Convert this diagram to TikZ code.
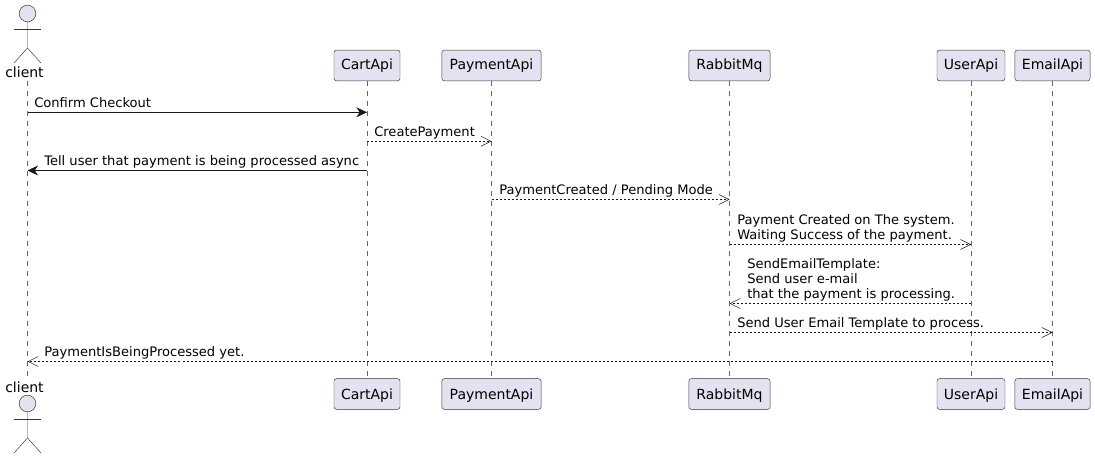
\documentclass[tikz,border=0pt]{standalone}
\usepackage{fontspec}
\setmainfont{DejaVu Sans}
\usetikzlibrary{arrows.meta,positioning,calc}
\definecolor{boxfill}{HTML}{E2E2F0}
\definecolor{boxline}{HTML}{333333}
\definecolor{lifegray}{HTML}{666666}
\definecolor{arrowdark}{HTML}{181818}
\tikzset{
  partbox/.style={
    draw=boxline,
    fill=boxfill,
    rounded corners=1.9pt,
    line width=0.35pt,
    align=center,
    inner sep=0pt,
    minimum height=23pt,
    text height=8pt,
    text depth=2pt,
    font=\fontsize{10.5pt}{12pt}\selectfont
  },
  partboxlow/.style={partbox, text height=8.5pt, text depth=1pt},
  actorname/.style={anchor=base, inner sep=0pt, font=\fontsize{10.5pt}{12pt}\selectfont},
  actorhead/.style={circle, draw=boxline, fill=boxfill, line width=0.35pt, minimum size=12.5pt, inner sep=0pt},
  actorline/.style={draw=boxline, line width=0.35pt},
  lifeline/.style={draw=lifegray, line width=0.35pt, dash pattern=on 3.75pt off 3.75pt},
  msglabel/.style={anchor=base west, inner sep=0pt, align=left, font=\fontsize{9.8pt}{11.25pt}\selectfont},
  syncarrow/.style={-{Stealth[length=8pt, width=7.5pt, inset=2.6pt]}, draw=arrowdark, line width=0.75pt},
  asyncarrow/.style={-{Straight Barb[length=7.5pt, width=7.5pt]}, draw=arrowdark, line width=0.38pt, dash pattern=on 1.5pt off 1.5pt}
}
\begin{document}
\begin{tikzpicture}[x=0.75pt, y=-0.75pt]
\useasboundingbox (0,0) rectangle (1095,459);
% participants
\node[actorname] (clientTop) at (24.5,78) {client};
\node[partbox, minimum width=49.5pt] (cartTop) at (367,65.5) {CartApi};
\node[partbox, minimum width=74.5pt] (payTop) at (491.5,65.5) {PaymentApi};
\node[partbox, minimum width=61pt] (rabbitTop) at (729.5,65.5) {RabbitMq};
\node[partbox, minimum width=51pt] (userTop) at (971,65.5) {UserApi};
\node[partbox, minimum width=56.5pt] (emailTop) at (1052.5,65.5) {EmailApi};
\node[actorname] (clientBot) at (24.5,392) {client};
\node[partboxlow, minimum width=49.5pt] (cartBot) at (367,394) {CartApi};
\node[partboxlow, minimum width=74.5pt] (payBot) at (491.5,394) {PaymentApi};
\node[partboxlow, minimum width=61pt] (rabbitBot) at (729.5,394) {RabbitMq};
\node[partboxlow, minimum width=51pt] (userBot) at (971,394) {UserApi};
\node[partboxlow, minimum width=56.5pt] (emailBot) at (1052.5,394) {EmailApi};
\coordinate (clientUp) at (27.5,81);
\coordinate (clientDown) at (27.5,378);

% lifelines
\draw[lifeline] (clientUp) -- (clientDown);
\draw[lifeline] (cartTop) -- (cartBot);
\draw[lifeline] (payTop) -- (payBot);
\draw[lifeline] (rabbitTop) -- (rabbitBot);
\draw[lifeline] (userTop) -- (userBot);
\draw[lifeline] (emailTop) -- (emailBot);

% stick figures
\node[actorhead] (headTop) at (27.5,13.5) {};
\coordinate (hipTop) at (27.5,48);
\draw[actorline] (headTop) -- (hipTop) -- +(-13.5,15);
\draw[actorline] (hipTop) -- +(13.5,15);
\draw[actorline] (14,29) -- (41,29);
\node[actorhead] (headBot) at (27.5,403.5) {};
\coordinate (hipBot) at (27.5,438);
\draw[actorline] (headBot) -- (hipBot) -- +(-13.5,15);
\draw[actorline] (hipBot) -- +(13.5,15);
\draw[actorline] (14,419) -- (41,419);

% messages
\foreach \name/\ypos in {m1/112.3,m2/141.3,m3/170.5,m4/199.5,m5/244.5,m6/303.5,m7/332.5,m8/361.5}
  \coordinate (\name) at (0,\ypos);

\draw[syncarrow] (clientUp |- m1) -- (cartTop |- m1);
\draw[asyncarrow] (cartTop |- m2) -- (payTop |- m2);
\draw[syncarrow] (cartTop |- m3) -- (clientUp |- m3);
\draw[asyncarrow] (payTop |- m4) -- (rabbitTop |- m4);
\draw[asyncarrow] (rabbitTop |- m5) -- (userTop |- m5);
\draw[asyncarrow] (userTop |- m6) -- (rabbitTop |- m6);
\draw[asyncarrow] (rabbitTop |- m7) -- (emailTop |- m7);
\draw[asyncarrow] (emailTop |- m8) -- (clientUp |- m8);

\node[msglabel] (l1) at (34,107.5) {Confirm Checkout};
\node[msglabel] (l2) at (374,136.5) {CreatePayment};
\node[msglabel] (l3) at (44,166) {Tell user that payment is being processed async};
\node[msglabel] (l4) at (499,195) {PaymentCreated / Pending Mode};
\node[msglabel] (l5a) at (737,224.5) {Payment Created on The system.};
\node[msglabel] (l5b) at (737,239.5) {Waiting Success of the payment.};
\node[msglabel] (l6a) at (747,268.5) {SendEmailTemplate:};
\node[msglabel] (l6b) at (747,283.5) {Send user e-mail};
\node[msglabel] (l6c) at (747,298.5) {that the payment is processing.};
\node[msglabel] (l7) at (737,328) {Send User Email Template to process.};
\node[msglabel] (l8) at (44,357) {PaymentIsBeingProcessed yet.};
\end{tikzpicture}
\end{document}
